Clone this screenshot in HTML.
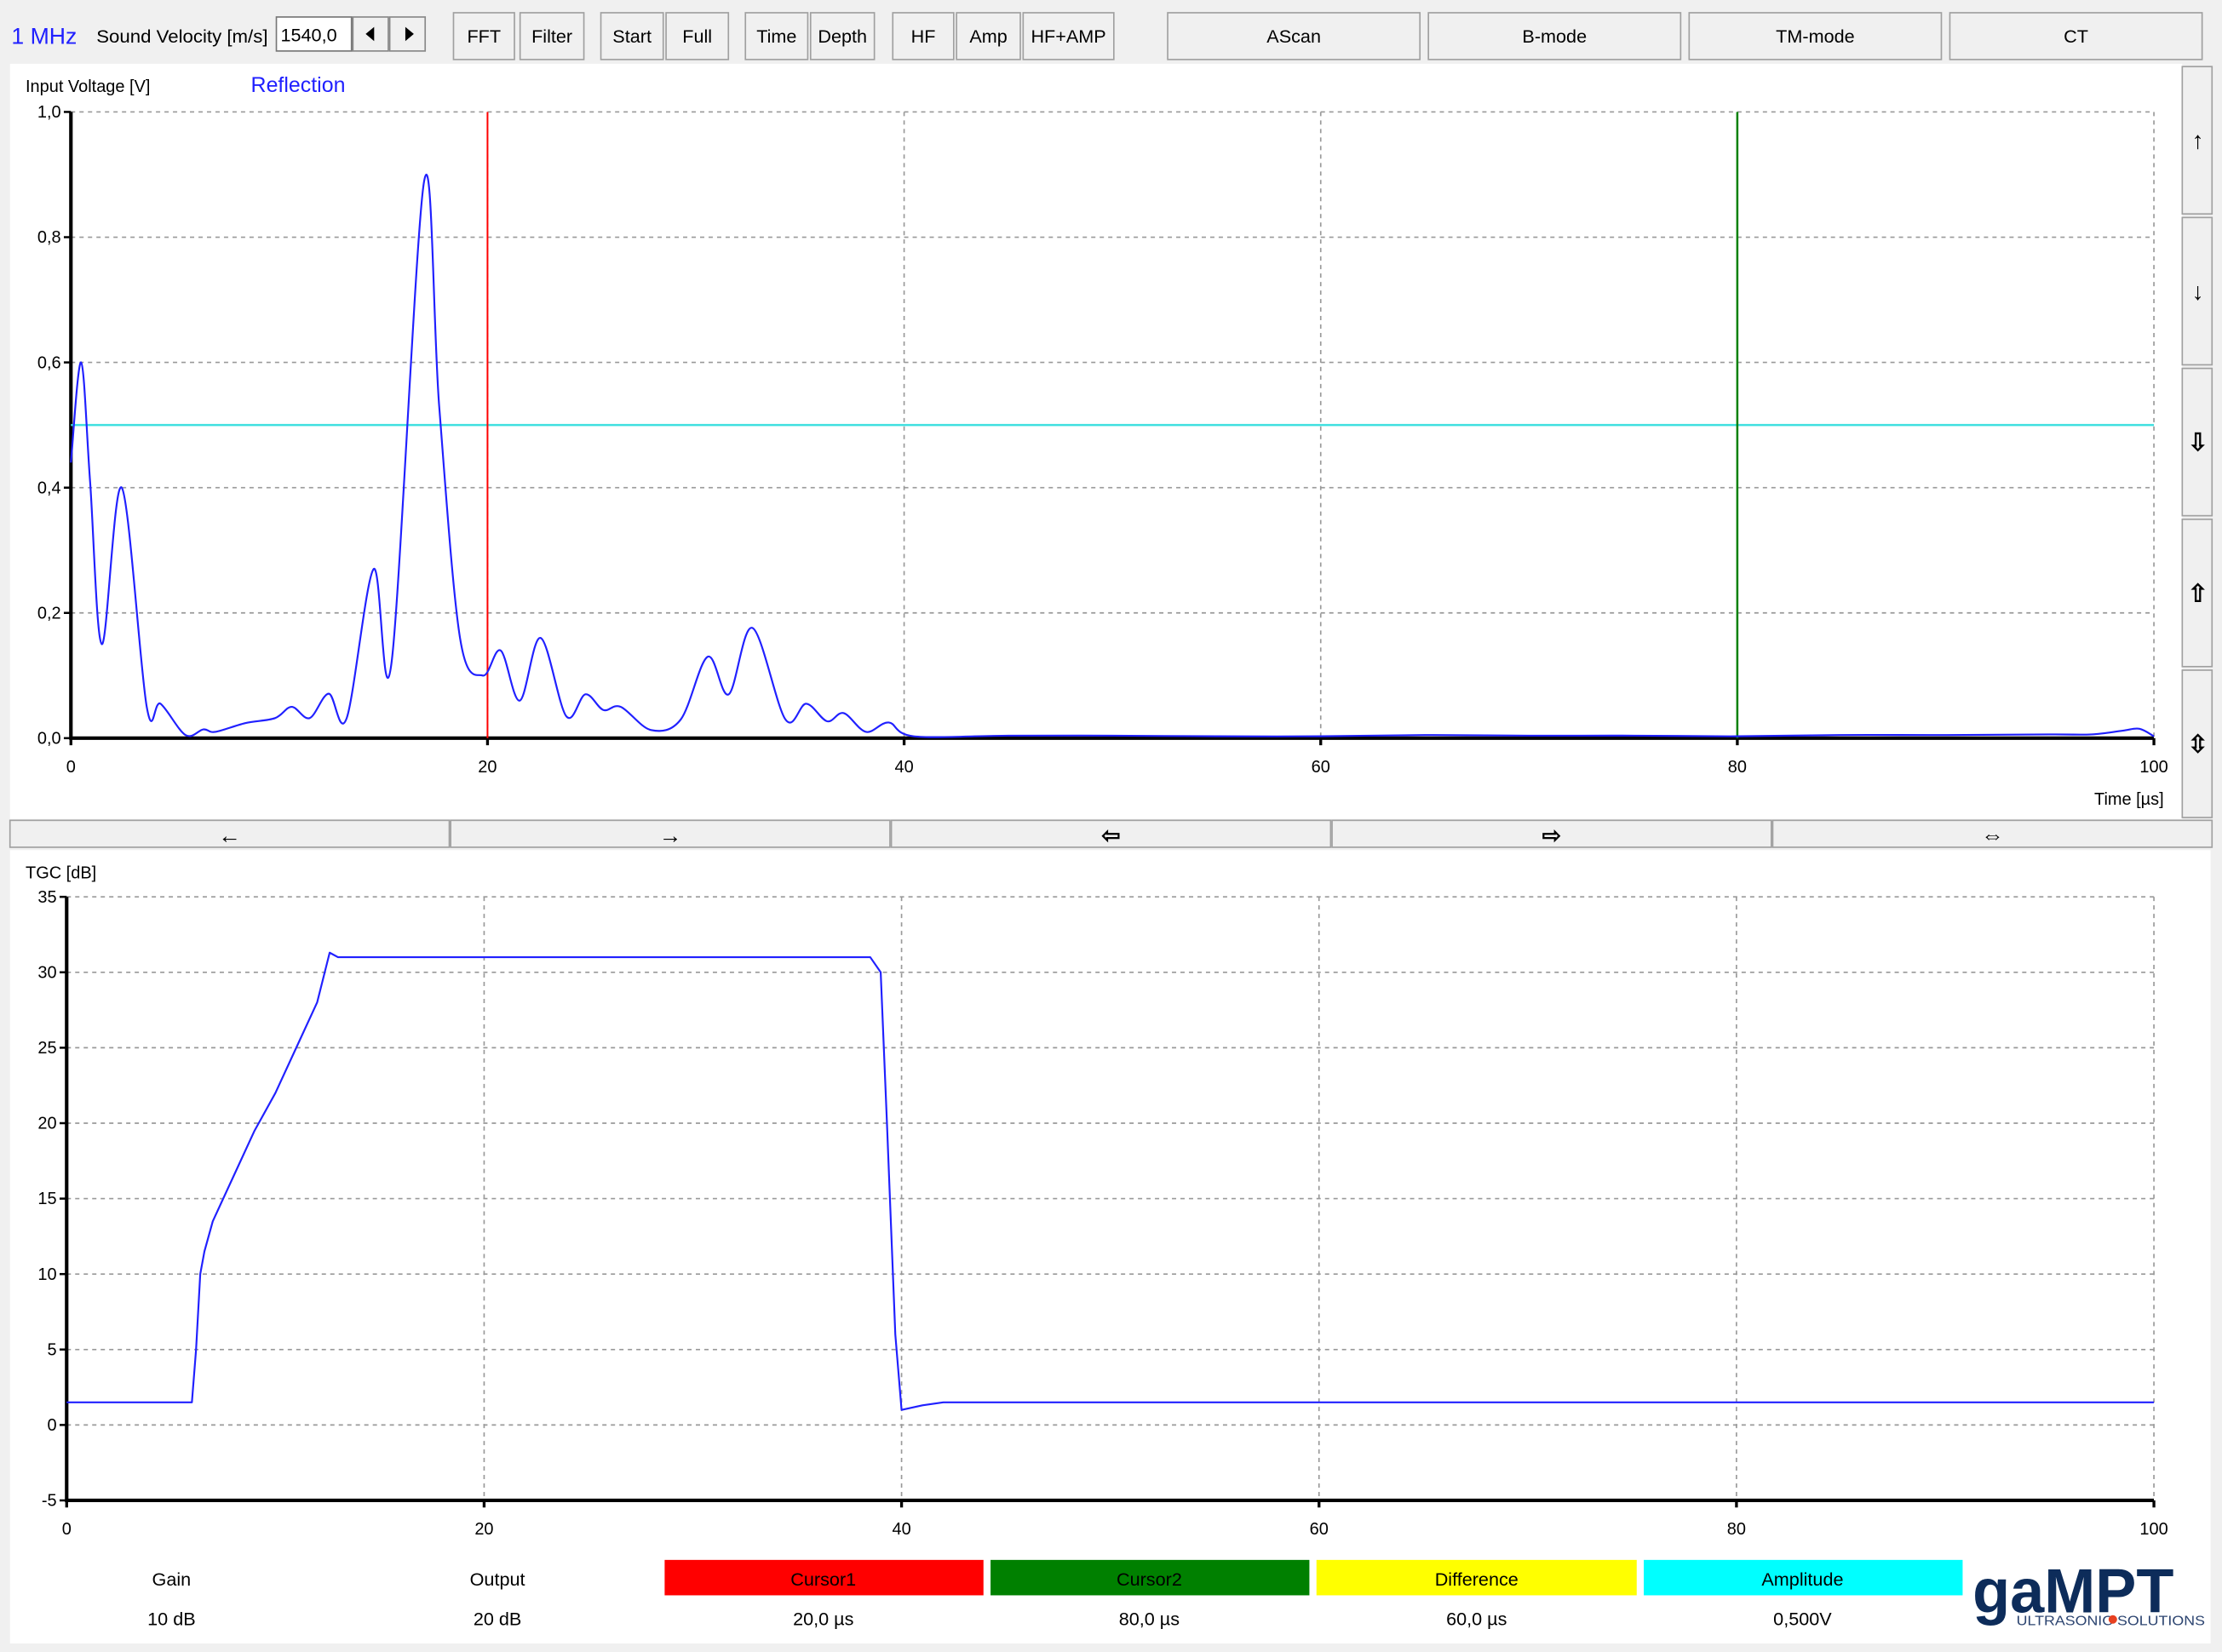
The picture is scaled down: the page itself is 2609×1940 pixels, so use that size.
<!DOCTYPE html>
<html><head><meta charset="utf-8">
<style>
html,body{margin:0;padding:0;background:#f0f0f0;}
svg{display:block;font-family:"Liberation Sans",sans-serif;}
</style></head>
<body>
<svg id="root" width="2609" height="1940" viewBox="0 0 1568 1166" xmlns="http://www.w3.org/2000/svg">
<rect x="0" y="0" width="1568" height="1166" fill="#f0f0f0"/>
<g id="toolbar">
<text x="8" y="31" font-size="16" fill="#2020ff">1 MHz</text>
<text x="68" y="30" font-size="13" fill="#000" textLength="121" lengthAdjust="spacingAndGlyphs">Sound Velocity [m/s]</text>
<rect x="195" y="12" width="53" height="24" fill="#fff" stroke="#777"/>
<text x="198" y="29" font-size="13">1540,0</text>
<rect x="249" y="12" width="25" height="24" fill="#f0f0f0" stroke="#888"/>
<path d="M258 24 l6 -5 v10z" fill="#000"/>
<rect x="275" y="12" width="25" height="24" fill="#f0f0f0" stroke="#888"/>
<path d="M292 24 l-6 -5 v10z" fill="#000"/>
</g>
<g id="buttons"></g>
<rect x="7" y="45" width="1533" height="533" fill="#fff"/>
<rect x="1540" y="45" width="22" height="533" fill="#f0f0f0"/>
<g id="sidebtns"></g>
<text x="18" y="65" font-size="12">Input Voltage [V]</text>
<text x="177" y="65" font-size="15" fill="#2020ff">Reflection</text>
<text x="1527" y="568" font-size="12" text-anchor="end">Time [µs]</text>
<g id="top-chart"></g>
<g id="arrowbar"></g>
<rect x="7" y="600" width="1553" height="560" fill="#fff"/>
<text x="18" y="620" font-size="12">TGC [dB]</text>
<g id="bot-chart"></g>
<g id="status">
<text x="121" y="1119" font-size="13" text-anchor="middle">Gain</text>
<text x="121" y="1147" font-size="13" text-anchor="middle">10 dB</text>
<text x="351" y="1119" font-size="13" text-anchor="middle">Output</text>
<text x="351" y="1147" font-size="13" text-anchor="middle">20 dB</text>
<rect x="469" y="1101" width="225" height="25" fill="#ff0000"/>
<text x="581" y="1119" font-size="13" text-anchor="middle">Cursor1</text>
<text x="581" y="1147" font-size="13" text-anchor="middle">20,0 µs</text>
<rect x="699" y="1101" width="225" height="25" fill="#008000"/>
<text x="811" y="1119" font-size="13" text-anchor="middle">Cursor2</text>
<text x="811" y="1147" font-size="13" text-anchor="middle">80,0 µs</text>
<rect x="929" y="1101" width="226" height="25" fill="#ffff00"/>
<text x="1042" y="1119" font-size="13" text-anchor="middle">Difference</text>
<text x="1042" y="1147" font-size="13" text-anchor="middle">60,0 µs</text>
<rect x="1160" y="1101" width="225" height="25" fill="#00ffff"/>
<text x="1272" y="1119" font-size="13" text-anchor="middle">Amplitude</text>
<text x="1272" y="1147" font-size="13" text-anchor="middle">0,500V</text>
<text x="1392" y="1138" font-size="44" font-weight="bold" fill="#0d2c5a" textLength="142" lengthAdjust="spacingAndGlyphs">gaMPT</text>
<text x="1423" y="1147" font-size="9.5" fill="#2c4470" textLength="133" lengthAdjust="spacingAndGlyphs">ULTRASONIC SOLUTIONS</text>
<circle cx="1491" cy="1143" r="3" fill="#e84020"/>
</g>
</svg>
<script>
const NS="http://www.w3.org/2000/svg";
// ---- data ----
const topTimes=[0,0.49,0.92,1.49,2.44,3.64,4.3,5.5,6.36,6.93,8.37,9.8,10.6,11.46,12.38,13.24,14.53,15.39,16.96,17.68,18.68,19.77,20.63,21.55,22.55,23.78,24.7,25.56,26.4,27.85,29.28,30.57,31.58,32.72,34.3,35.3,36.3,37.1,38.17,39.26,40.46,45,50,55,60,65,70,75,80,85,90,95,97,98.5,99.3,100];
const topVolts=[0.44,0.60,0.41,0.15,0.40,0.05,0.055,0.005,0.014,0.01,0.024,0.032,0.05,0.032,0.071,0.032,0.27,0.12,0.89,0.53,0.16,0.10,0.14,0.06,0.16,0.035,0.07,0.045,0.05,0.013,0.03,0.13,0.07,0.176,0.03,0.055,0.027,0.04,0.01,0.025,0.003,0.004,0.004,0.003,0.003,0.005,0.004,0.004,0.003,0.005,0.005,0.006,0.006,0.012,0.015,0.003];
const topXTicks=[0,20,40,60,80,100];
const topYTicks=[0,0.2,0.4,0.6,0.8,1.0];
const topYLabels=["0,0","0,2","0,4","0,6","0,8","1,0"];
const cursor1=20, cursor2=80, amplitudeLevel=0.5;
const tgcTimes=[0,1,6,6.2,6.4,6.6,7,8,9,10,11,12,12.6,13,20,30,38.5,39,39.3,39.7,40,41,42,60,80,100];
const tgcValues=[1.5,1.5,1.5,5,10,11.5,13.5,16.5,19.5,22,25,28,31.3,31,31,31,31,30,20,6,1,1.3,1.5,1.5,1.5,1.5];
const botXTicks=[0,20,40,60,80,100];
const botYTicks=[-5,0,5,10,15,20,25,30,35];
const toolButtons=[["FFT",320,43],["Filter",367,45],["Start",424,44],["Full",470,44],["Time",526,44],["Depth",572,45],["HF",630,43],["Amp",675,45],["HF+AMP",722,64],["AScan",824,178],["B-mode",1008,178],["TM-mode",1192,178],["CT",1376,178]];
// ---- helpers ----
function mk(tag,attrs,parent){const e=document.createElementNS(NS,tag);for(const k in attrs)e.setAttribute(k,attrs[k]);parent.appendChild(e);return e;}
function smooth(pts){
  let d=`M${pts[0][0]} ${pts[0][1]}`;
  for(let i=0;i<pts.length-1;i++){
    const p0=pts[i-1]||pts[i],p1=pts[i],p2=pts[i+1],p3=pts[i+2]||p2;
    const c1=[p1[0]+(p2[0]-p0[0])/6,p1[1]+(p2[1]-p0[1])/6];
    const c2=[p2[0]-(p3[0]-p1[0])/6,p2[1]-(p3[1]-p1[1])/6];
    d+=` C${c1[0]} ${c1[1]} ${c2[0]} ${c2[1]} ${p2[0]} ${p2[1]}`;
  }
  return d;
}
const tb=document.getElementById('buttons');
toolButtons.forEach(b=>{
  const r=mk('rect',{x:b[1],y:9,width:b[2],height:33,fill:'#f0f0f0',stroke:'#a0a0a0'},tb);
  
  
  const t=mk('text',{x:b[1]+b[2]/2,y:30,'font-size':13,'text-anchor':'middle'},tb);t.textContent=b[0];
});
const sb=document.getElementById('sidebtns');
const sideGlyphs=["↑","↓","⇩","⇧","⇳"];
for(let i=0;i<5;i++){
  const y0=47+i*106.5;
  const r=mk('rect',{x:1540,y:y0,width:21,height:104,fill:'#f0f0f0',stroke:'#a0a0a0'},sb);
  
  
  const t=mk('text',{x:1551,y:y0+58,'font-size':17,'font-weight':'bold','text-anchor':'middle'},sb);t.textContent=sideGlyphs[i];
}
const ab=document.getElementById('arrowbar');
const arrG=["←","→","⇦","⇨","⇔"];
for(let i=0;i<5;i++){
  const x0=7+i*311;
  const r=mk('rect',{x:x0,y:579,width:310,height:19,fill:'#f0f0f0',stroke:'#a0a0a0'},ab);
  
  
  const t=mk('text',{x:x0+155,y:595,'font-size':16,'font-weight':'bold','text-anchor':'middle'},ab);t.textContent=arrG[i];
}
function chart(g,xl,xr,yb,yt,ymin,ymax,xt,yt2,ylabels){
  const X=v=>xl+(v-0)/(100-0)*(xr-xl);
  const Y=v=>yb-(v-ymin)/(ymax-ymin)*(yb-yt);
  xt.forEach(v=>{ if(v>0){const l=mk('line',{x1:X(v),x2:X(v),y1:yt,y2:yb,stroke:'#999','stroke-dasharray':'3,3'},g);}
    mk('line',{x1:X(v),x2:X(v),y1:yb,y2:yb+5,stroke:'#000','stroke-width':2},g);
    const t=mk('text',{x:X(v),y:yb+24,'font-size':12,'text-anchor':'middle'},g);t.textContent=v;
    });
  yt2.forEach((v,i)=>{ if(v>ymin){const l=mk('line',{x1:xl,x2:xr,y1:Y(v),y2:Y(v),stroke:'#999','stroke-dasharray':'3,3'},g);}
    mk('line',{x1:xl-5,x2:xl,y1:Y(v),y2:Y(v),stroke:'#000','stroke-width':1.5},g);
    const t=mk('text',{x:xl-7,y:Y(v)+4,'font-size':12,'text-anchor':'end'},g);t.textContent=ylabels?ylabels[i]:v;
    });
  const ax=mk('path',{d:`M${xl} ${yt} V${yb} H${xr}`,fill:'none',stroke:'#000','stroke-width':2.5},g);
  
  return {X,Y};
}
const tg=document.getElementById('top-chart');
const A=chart(tg,50,1520,521,79,0,1,topXTicks,topYTicks,topYLabels);
let l=mk('line',{x1:A.X(0),x2:A.X(100),y1:A.Y(amplitudeLevel),y2:A.Y(amplitudeLevel),stroke:'#40e0e0','stroke-width':1.5},tg);


l=mk('line',{x1:A.X(cursor1),x2:A.X(cursor1),y1:79,y2:521,stroke:'#ff0000','stroke-width':1.2},tg);


l=mk('line',{x1:A.X(cursor2),x2:A.X(cursor2),y1:79,y2:521,stroke:'#008000','stroke-width':1.5},tg);


let p=mk('path',{d:smooth(topTimes.map((t,i)=>[A.X(t),A.Y(topVolts[i])])),fill:'none',stroke:'#2020ff','stroke-width':1.3,'stroke-linejoin':'round'},tg);


const bg=document.getElementById('bot-chart');
const B=chart(bg,47,1520,1059,633,-5,35,botXTicks,botYTicks,null);
p=mk('polyline',{points:tgcTimes.map((t,i)=>B.X(t)+','+B.Y(tgcValues[i])).join(' '),fill:'none',stroke:'#2020ff','stroke-width':1.3,'stroke-linejoin':'round'},bg);


</script>
</body></html>
